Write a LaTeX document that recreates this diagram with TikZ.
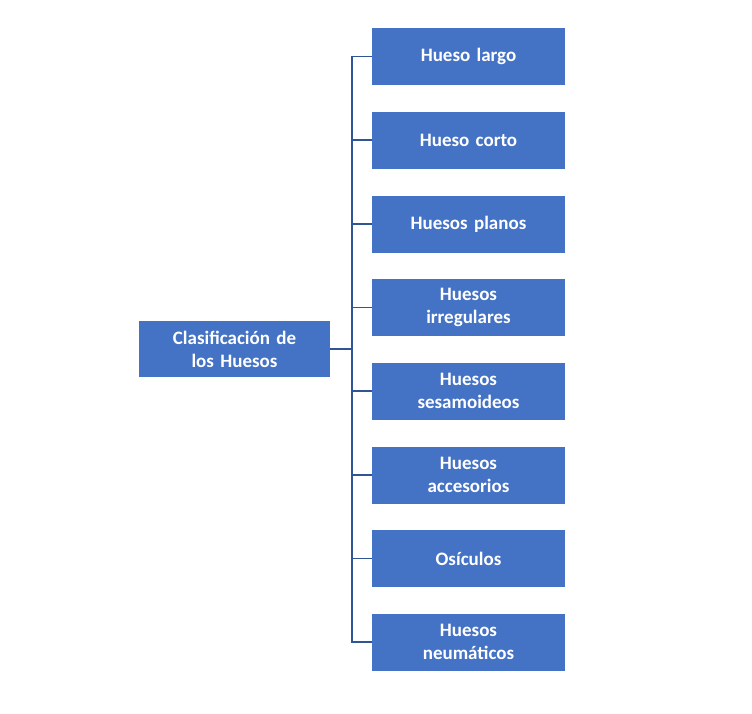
\documentclass[tikz,border=0pt]{standalone}
\usepackage{fontspec}
\setmainfont{Carlito}
\definecolor{boxblue}{HTML}{4472C4}
\definecolor{linkblue}{HTML}{2F5597}
\begin{document}
\begin{tikzpicture}[x=1pt,y=-1pt,
  bx/.style={fill=boxblue,draw=none,text=white,font=\fontsize{19}{23}\selectfont\bfseries,align=center,minimum width=193pt,minimum height=57pt,inner sep=2pt,text width=185pt},
  lk/.style={draw=linkblue,line width=1.6pt}]
\useasboundingbox (0,0) rectangle (752,713);
\node[bx,minimum width=191pt,minimum height=56pt,text width=183pt] (root) at (234.5,349) {Clasificación de\\los Huesos};
\node[bx] (b1) at (468.5,56.5) {Hueso largo};
\node[bx] (b2) at (468.5,140) {Hueso corto};
\node[bx] (b3) at (468.5,224) {Huesos planos};
\node[bx] (b4) at (468.5,307.5) {Huesos\\irregulares};
\node[bx] (b5) at (468.5,391) {Huesos\\sesamoideos};
\node[bx] (b6) at (468.5,475) {Huesos\\accesorios};
\node[bx] (b7) at (468.5,558.5) {Osículos};
\node[bx] (b8) at (468.5,642) {Huesos\\neumáticos};
\coordinate (j) at (352,349);
\draw[lk] (root.east) -- (j);
\foreach \b in {b1,b2,b3,b4,b5,b6,b7,b8}{\draw[lk] (j) |- (\b.west);}
\end{tikzpicture}
\end{document}
